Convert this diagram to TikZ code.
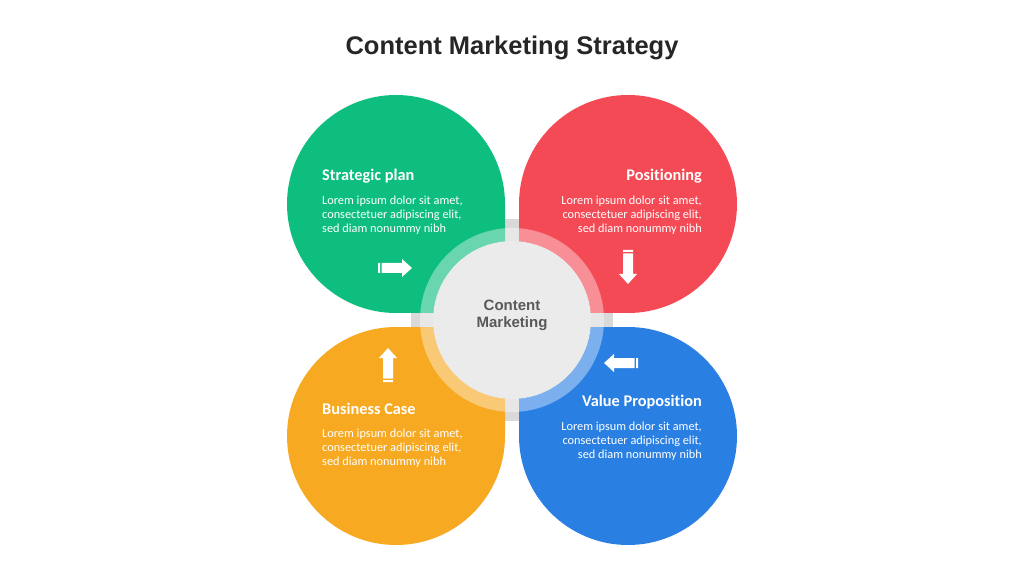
\documentclass[tikz,border=0pt]{standalone}
\usepackage{fontspec}
\setmainfont{Liberation Sans}
\newfontfamily\leaffont[Ligatures={NoCommon}]{Carlito}

\definecolor{leafgreen}{HTML}{0DBE7E}
\definecolor{leafred}{HTML}{F44A56}
\definecolor{leafyellow}{HTML}{F7A922}
\definecolor{leafblue}{HTML}{2A7FE2}

\begin{document}
\begin{tikzpicture}[x=1pt,y=1pt,
  leaftitle/.style={font=\leaffont\bfseries\fontsize{16.3}{18}\selectfont, text=white, inner sep=0pt},
  leafbody/.style={font=\leaffont\fontsize{12.3}{14}\selectfont, text=white, inner sep=0pt}]

\useasboundingbox (0,0) rectangle (1024,576);
\fill[white] (0,0) rectangle (1024,576);

%heading
\node[text=black!85] (heading) at (512,528) {\fontsize{25.5}{28}\selectfont\bfseries Content Marketing Strategy};

%grey disc behind the leaves
\fill[black!15] (512,256) circle (101);

%four leaves, the green one turned round the middle
\foreach \ang/\col in {0/leafgreen,-90/leafred,180/leafblue,90/leafyellow}
\fill[\col, rotate around={\ang:(512,256)}] (505,263) -- (505,372) arc[start angle=0,end angle=270,radius=109] -- cycle;

%see-through ring and the core
\fill[white, opacity=0.38, even odd rule] (512,256) circle (92) circle (79);
\node[circle, fill=black!8, minimum size=158pt, inner sep=0pt] (core) at (512,256) {};
\node[align=center, text=black!65, font=\bfseries\fontsize{15}{17}\selectfont] (coretext) at (512,260.5) {Content\\Marketing};

%white block arrows
\foreach \px/\py/\ang in {378/308/0, 628/326/-90, 388/194/90, 638/213/180}
\fill[white, shift={(\px,\py)}, rotate=\ang] (0,-5) rectangle (2,5) (3.5,-5) -- (24,-5) -- (24,-9) -- (34,0) -- (24,9) -- (24,5) -- (3.5,5) -- cycle;

%leaf texts
\node[leaftitle, anchor=west] (plantitle) at (322,400) {Strategic plan};
\node[leafbody, anchor=west, align=left] (plantext) at (322,361) {Lorem ipsum dolor sit amet,\\consectetuer adipiscing elit,\\sed diam nonummy nibh};

\node[leaftitle, anchor=east] (postitle) at (702,400) {Positioning};
\node[leafbody, anchor=east, align=right] (postext) at (702,361) {Lorem ipsum dolor sit amet,\\consectetuer adipiscing elit,\\sed diam nonummy nibh};

\node[leaftitle, anchor=west] (casetitle) at (322,167) {Business Case};
\node[leafbody, anchor=west, align=left] (casetext) at (322,128) {Lorem ipsum dolor sit amet,\\consectetuer adipiscing elit,\\sed diam nonummy nibh};

\node[leaftitle, anchor=east] (valuetitle) at (702,174) {Value Proposition};
\node[leafbody, anchor=east, align=right] (valuetext) at (702,135) {Lorem ipsum dolor sit amet,\\consectetuer adipiscing elit,\\sed diam nonummy nibh};

\end{tikzpicture}
\end{document}
